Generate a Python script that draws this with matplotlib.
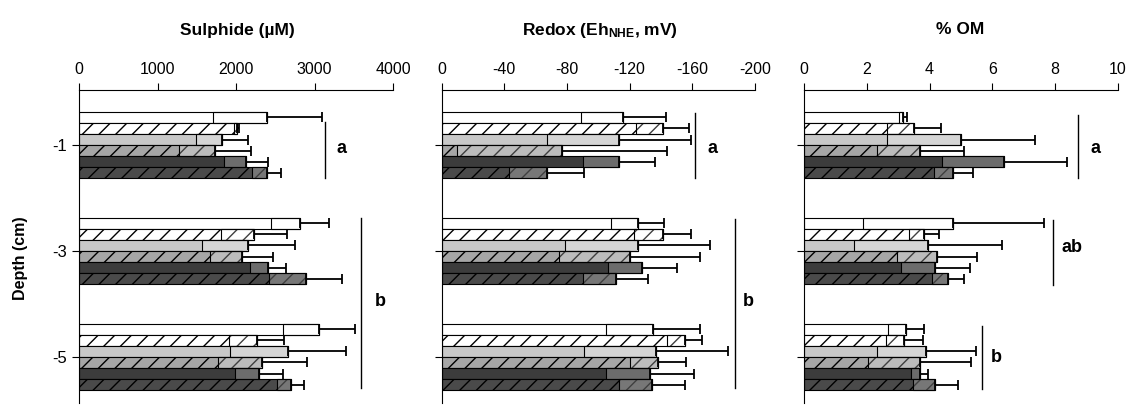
import numpy as np
import matplotlib
matplotlib.use("Agg")
import matplotlib.pyplot as plt

plt.rcParams['font.family'] = ['Liberation Sans', 'DejaVu Sans']
plt.rcParams['mathtext.fontset'] = 'custom'
plt.rcParams['mathtext.rm'] = 'Liberation Sans:bold'
plt.rcParams['mathtext.default'] = 'regular'
plt.rcParams['hatch.linewidth'] = 1.0

# depths (cm) and the 6 treatments drawn top -> bottom in each group
depths = [-1, -3, -5]

# sulphide (uM): mean and sd, one row per depth, 6 treatments
sulph_mean = [[2399, 2009, 1826, 1733, 2130, 2390],
              [2815, 2233, 2157, 2072, 2412, 2888],
              [3057, 2263, 2660, 2335, 2293, 2697]]
sulph_sd = [[693, 30, 331, 454, 280, 180],
            [370, 420, 590, 400, 230, 465],
            [460, 350, 740, 565, 300, 170]]

# redox (Eh NHE, mV)
redox_mean = [[-116, -141, -113, -77, -113, -67],
              [-125, -141, -125, -120, -128, -111],
              [-135, -155, -137, -138, -133, -134]]
redox_sd = [[27, 17, 46, 67, 23, 24],
            [17, 18, 46, 45, 22, 21],
            [30, 11, 46, 18, 28, 21]]

# organic matter (%)
om_mean = [[3.15, 3.5, 5.0, 3.7, 6.38, 4.75],
           [4.76, 3.83, 3.95, 4.23, 4.18, 4.58],
           [3.25, 3.2, 3.9, 3.68, 3.68, 4.18]]
om_sd = [[0.12, 0.85, 2.35, 1.38, 2.0, 0.62],
         [2.88, 0.48, 2.37, 1.28, 1.1, 0.5],
         [0.57, 0.6, 1.58, 1.65, 0.28, 0.72]]

face = ['white', 'white', '#c8c8c8', '#a6a6a6', '#3c3c3c', '#4a4a4a']
hatch = [None, '//', None, '//', None, '//']

titles = ['Sulphide (µM)', 'Redox ($\\mathregular{Eh_{NHE}}$, mV)', '% OM']
xlims = [(0, 4000), (0, -200), (0, 10)]
xticks = [[0, 1000, 2000, 3000, 4000], [0, -40, -80, -120, -160, -200],
          [0, 2, 4, 6, 8, 10]]

# significance letters: (line x, y top, y bottom, text x, text y, label)
letters = [
    [(3134, -0.57, -1.62, 3350, -1.06, 'a'), (3592, -2.38, -5.58, 3834, -3.96, 'b')],
    [(-162, -0.39, -1.63, -173, -1.06, 'a'), (-187, -2.40, -5.58, -196, -3.96, 'b')],
    [(8.74, -0.43, -1.62, 9.28, -1.06, 'a'), (7.93, -2.42, -3.64, 8.54, -2.94, 'ab'),
     (5.67, -4.42, -5.60, 6.12, -5.02, 'b')],
]

data = [(sulph_mean, sulph_sd), (redox_mean, redox_sd), (om_mean, om_sd)]
lefts = [79, 441.7, 804]
widths = [314, 313.3, 314]
title_x = [237, 600, 960]

fig = plt.figure(figsize=(11.32, 4.05), dpi=100)
bh = 0.21
for p in range(3):
    ax = fig.add_axes([lefts[p] / 1132, 1 - 403 / 405, widths[p] / 1132, (403 - 90) / 405])
    means, sds = data[p]
    for d, depth in enumerate(depths):
        for i in range(6):
            y = depth + (2.5 - i) * bh
            m = means[d][i]
            s = sds[d][i]
            sg = np.sign(m)
            ax.barh(y, m, height=bh, color=face[i], edgecolor='black',
                    hatch=hatch[i], linewidth=0.8, zorder=2)
            ax.barh(y, -sg * s, left=m, height=bh, facecolor=(1, 1, 1, 0.25),
                    edgecolor='black', linewidth=0.8, zorder=3)
            if sg > 0:
                xe = [[0], [s]]
            else:
                xe = [[s], [0]]
            ax.errorbar(m, y, xerr=xe, fmt='none', ecolor='black',
                        elinewidth=1.3, capsize=3.5, capthick=1.3, zorder=4)
    for lx, y0, y1, tx, ty, lab in letters[p]:
        ax.plot([lx, lx], [y0, y1], color='black', linewidth=1.0)
        ax.text(tx, ty, lab, ha='center', va='center', fontsize=13,
                fontweight='bold')
    ax.set_xlim(*xlims[p])
    ax.set_ylim(-5.87, 0.04)
    ax.xaxis.tick_top()
    ax.set_xticks(xticks[p])
    ax.set_xticklabels([str(t) for t in xticks[p]], fontsize=11.5)
    ax.tick_params(axis='x', direction='out', length=5, pad=4)
    ax.set_yticks(depths)
    if p == 0:
        ax.set_yticklabels(['-1', '-3', '-5'], fontsize=12)
    else:
        ax.set_yticklabels([])
    ax.tick_params(axis='y', direction='out', length=5)
    ax.spines['bottom'].set_visible(False)
    ax.spines['right'].set_visible(False)
    fig.text(title_x[p] / 1132, 1 - 30 / 405, titles[p], ha='center',
             va='center', fontsize=12.5, fontweight='bold')

fig.text(21 / 1132, 1 - 258 / 405, 'Depth (cm)', rotation=90, ha='center',
         va='center', fontsize=11.5, fontweight='bold')

fig.savefig('out.png', dpi=100)
